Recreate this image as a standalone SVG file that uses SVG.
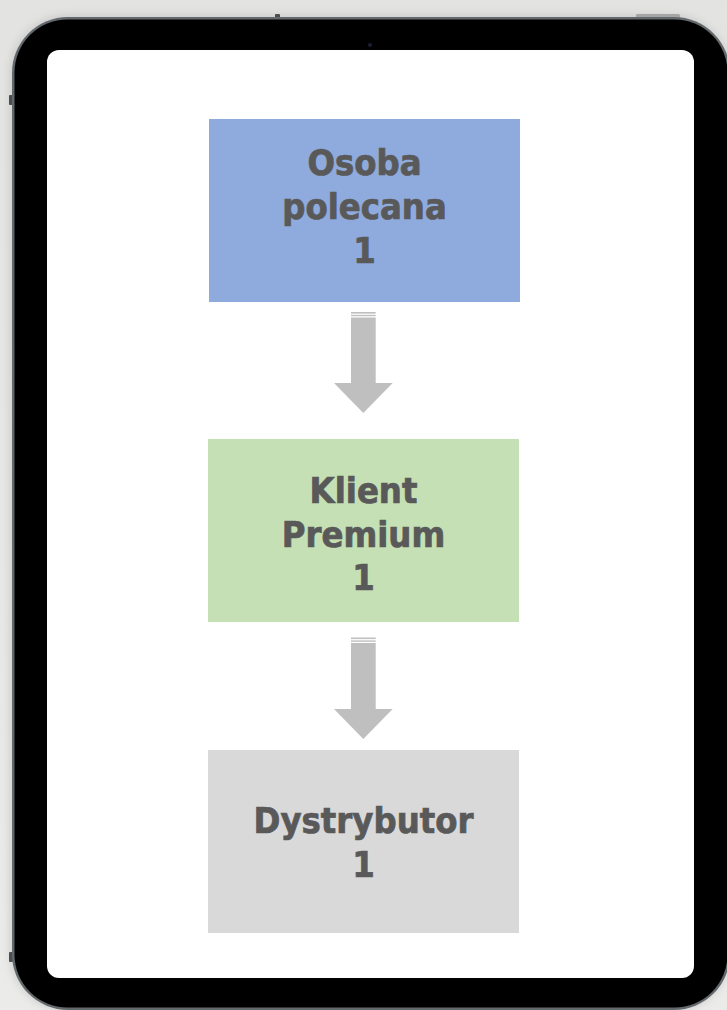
<svg xmlns="http://www.w3.org/2000/svg" width="727" height="1010" viewBox="0 0 727 1010">
  <style>
    .lbl { font-family: "DejaVu Sans Condensed", "DejaVu Sans", Verdana, sans-serif; font-weight: bold; font-size: 36px; fill: #595959; stroke: #595959; stroke-width: 0.7px; text-anchor: middle; }
    .arrow { fill: #bfbfbf; }
  </style>
  <defs>
    <linearGradient id="bg" x1="0" y1="0" x2="0" y2="1">
      <stop offset="0" stop-color="#e3e3e1"/>
      <stop offset="1" stop-color="#ebebe9"/>
    </linearGradient>
    <filter id="sh" x="-10%" y="-10%" width="120%" height="120%">
      <feGaussianBlur stdDeviation="4"/>
    </filter>
  </defs>
  <rect x="0" y="0" width="727" height="1010" fill="url(#bg)"/>
  <g id="device">
    <rect x="10" y="15" width="720" height="996" rx="58" fill="#b9bab9" filter="url(#sh)" opacity="0.6"/>
    <rect x="275" y="14" width="5" height="6" rx="1" fill="#4a4e50"/>
    <rect x="636" y="14" width="44" height="5" rx="1.5" fill="#a3a5a6"/>
    <rect x="9" y="95" width="4" height="10" rx="1" fill="#4a4e50"/>
    <rect x="9" y="952" width="4" height="10" rx="1" fill="#4a4e50"/>
    <rect x="12" y="17" width="718" height="993" rx="56" fill="#62686b"/>
    <rect x="14.5" y="19.5" width="713" height="988" rx="53" fill="#000"/>
    <rect x="47" y="50" width="647" height="928" rx="12" fill="#fff"/>
    <circle cx="370" cy="45" r="2" fill="#1b1d33"/>
  </g>
  <g id="connectors">
    <g id="arrow1" class="arrow">
      <rect x="351" y="312" width="24.7" height="1.6"/>
      <rect x="351" y="314.8" width="24.7" height="1.4"/>
      <rect x="351" y="317.5" width="24.7" height="66"/>
      <polygon points="334,383 392.7,383 363.3,413"/>
    </g>
    <g id="arrow2" class="arrow">
      <rect x="351" y="637.5" width="24.7" height="1.6"/>
      <rect x="351" y="640.4" width="24.7" height="1.4"/>
      <rect x="351" y="643" width="24.7" height="66.5"/>
      <polygon points="334,709 392.7,709 363.3,739"/>
    </g>
  </g>
  <g id="node1">
    <rect x="209" y="119" width="311" height="183" fill="#8faadc"/>
    <text class="lbl" x="364.5" y="175">Osoba</text>
    <text class="lbl" x="364.5" y="219">polecana</text>
    <text class="lbl" x="364.5" y="263">1</text>
  </g>
  <g id="node2">
    <rect x="208" y="439" width="311" height="183" fill="#c5e0b4"/>
    <text class="lbl" x="363.5" y="503">Klient</text>
    <text class="lbl" x="363.5" y="547">Premium</text>
    <text class="lbl" x="363.5" y="590">1</text>
  </g>
  <g id="node3">
    <rect x="208" y="750" width="311" height="183" fill="#d9d9d9"/>
    <text class="lbl" x="363.5" y="833">Dystrybutor</text>
    <text class="lbl" x="363.5" y="877">1</text>
  </g>
</svg>
